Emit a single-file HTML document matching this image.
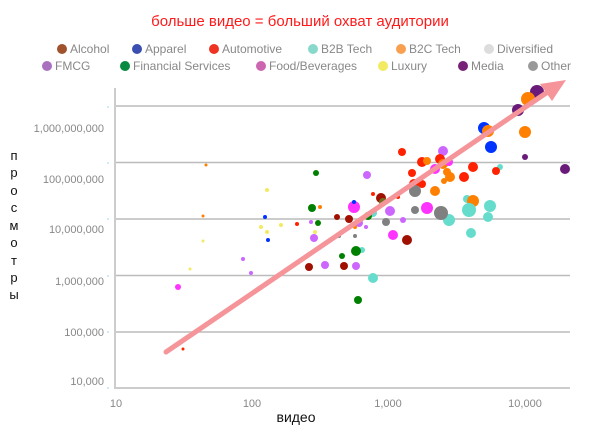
<!DOCTYPE html>
<html><head><meta charset="utf-8"><style>
html,body{margin:0;padding:0;background:#fff;}
svg{display:block;font-family:"Liberation Sans",sans-serif;}
</style></head><body>
<svg width="600" height="433" viewBox="0 0 600 433">
<text x="300" y="26" text-anchor="middle" fill="#ff1a1a" font-size="15">больше видео = больший охват аудитории</text>
<g font-size="12" fill="#888">
<circle cx="62" cy="49" r="5" fill="#a0522d"/><text x="70" y="53">Alcohol</text>
<circle cx="137" cy="49" r="5" fill="#3a4fb0"/><text x="145" y="53">Apparel</text>
<circle cx="214" cy="49" r="5" fill="#ee3322"/><text x="222" y="53">Automotive</text>
<circle cx="313" cy="49" r="5" fill="#88d8cc"/><text x="321" y="53">B2B Tech</text>
<circle cx="401" cy="49" r="5" fill="#f8a050"/><text x="409" y="53">B2C Tech</text>
<circle cx="489" cy="49" r="5" fill="#dddddd"/><text x="497" y="53">Diversified</text>
<circle cx="47" cy="66" r="5" fill="#aa70c0"/><text x="55" y="70">FMCG</text>
<circle cx="125" cy="66" r="5" fill="#0a8a40"/><text x="133" y="70">Financial Services</text>
<circle cx="261" cy="66" r="5" fill="#cc66b0"/><text x="269" y="70">Food/Beverages</text>
<circle cx="383" cy="66" r="5" fill="#f2ea60"/><text x="391" y="70">Luxury</text>
<circle cx="463" cy="66" r="5" fill="#772277"/><text x="471" y="70">Media</text>
<circle cx="533" cy="66" r="5" fill="#999"/><text x="541" y="70">Other</text>
</g>
<g stroke="#bbb" stroke-width="1.5">
<line x1="115" y1="106" x2="570" y2="106"/><line x1="115" y1="162.5" x2="570" y2="162.5"/>
<line x1="115" y1="219" x2="570" y2="219"/><line x1="115" y1="275.5" x2="570" y2="275.5"/>
<line x1="115" y1="332" x2="570" y2="332"/>
</g>
<g stroke="#ccc" stroke-width="2"><line x1="115" y1="88" x2="115" y2="389"/><line x1="114" y1="388" x2="570" y2="388"/></g>
<g stroke="#9cd8f0" stroke-width="1"><line x1="108" y1="106" x2="108" y2="108"/><line x1="108" y1="162" x2="108" y2="164"/><line x1="108" y1="218" x2="108" y2="220"/><line x1="108" y1="275" x2="108" y2="277"/><line x1="108" y1="331" x2="108" y2="333"/><line x1="108" y1="387" x2="108" y2="389"/></g>
<g font-size="11" fill="#888" text-anchor="end">
<text x="104" y="132">1,000,000,000</text><text x="104" y="183">100,000,000</text>
<text x="104" y="233">10,000,000</text><text x="104" y="285">1,000,000</text>
<text x="104" y="336">100,000</text><text x="104" y="385">10,000</text>
</g>
<g font-size="11" fill="#888" text-anchor="middle">
<text x="116" y="407">10</text><text x="252" y="407">100</text><text x="388" y="407">1,000</text><text x="525" y="407">10,000</text>
</g>
<text x="296" y="422" text-anchor="middle" font-size="14" fill="#111">видео</text>
<g font-size="13" fill="#111" text-anchor="middle">
<text x="14" y="160">п</text><text x="14" y="177">р</text><text x="14" y="195">о</text><text x="14" y="212">с</text><text x="14" y="230">м</text><text x="14" y="247">о</text><text x="14" y="265">т</text><text x="14" y="282">р</text><text x="14" y="299">ы</text>
</g>
<g>
<circle cx="537" cy="92" r="7" fill="#6a1b7a"/><circle cx="528" cy="99" r="7" fill="#ff8000"/><circle cx="518" cy="110" r="6" fill="#6a1b7a"/>
<circle cx="484" cy="128" r="6" fill="#0033ff"/><circle cx="488" cy="131" r="6" fill="#ff8000"/><circle cx="525" cy="132" r="6" fill="#ff8000"/>
<circle cx="491" cy="147" r="6" fill="#0033ff"/><circle cx="525" cy="157" r="3" fill="#6a1b7a"/><circle cx="565" cy="169" r="5" fill="#6a1b7a"/>
<circle cx="402" cy="152" r="4" fill="#ff2200"/><circle cx="443" cy="151" r="5" fill="#cc66ff"/><circle cx="422" cy="162" r="5" fill="#ff2200"/>
<circle cx="427" cy="161" r="4" fill="#ff8000"/><circle cx="440" cy="159" r="5" fill="#ff2200"/><circle cx="443" cy="164" r="5" fill="#ff8000"/>
<circle cx="449" cy="162" r="4" fill="#ff33ff"/><circle cx="500" cy="167" r="3" fill="#66ddcc"/><circle cx="473" cy="167" r="5" fill="#ff2200"/>
<circle cx="496" cy="171" r="4" fill="#ff2200"/><circle cx="435" cy="169" r="5" fill="#ff33ff"/><circle cx="447" cy="172" r="4" fill="#ff8000"/>
<circle cx="450" cy="177" r="5" fill="#ff8000"/><circle cx="464" cy="177" r="5" fill="#ff2200"/><circle cx="444" cy="181" r="3" fill="#ff8000"/>
<circle cx="316" cy="173" r="3" fill="#008000"/><circle cx="367" cy="175" r="4" fill="#cc66ff"/><circle cx="412" cy="173" r="4" fill="#ff2200"/>
<circle cx="414" cy="184" r="5" fill="#ff2200"/><circle cx="422" cy="184" r="4" fill="#ff2200"/><circle cx="415" cy="191" r="6" fill="#808080"/>
<circle cx="435" cy="191" r="5" fill="#ff8000"/><circle cx="467" cy="199" r="4" fill="#66ddcc"/><circle cx="473" cy="201" r="6" fill="#ff8000"/>
<circle cx="490" cy="206" r="6" fill="#66ddcc"/><circle cx="469" cy="210" r="7" fill="#66ddcc"/><circle cx="488" cy="217" r="5" fill="#66ddcc"/>
<circle cx="449" cy="220" r="6" fill="#66ddcc"/><circle cx="441" cy="213" r="7" fill="#808080"/><circle cx="427" cy="208" r="6" fill="#ff33ff"/>
<circle cx="415" cy="210" r="4" fill="#808080"/><circle cx="471" cy="233" r="5" fill="#66ddcc"/><circle cx="407" cy="240" r="5" fill="#a01000"/>
<circle cx="393" cy="235" r="5" fill="#ff33ff"/><circle cx="386" cy="222" r="4" fill="#808080"/><circle cx="403" cy="220" r="3" fill="#cc66ff"/>
<circle cx="390" cy="211" r="5" fill="#cc66ff"/><circle cx="381" cy="198" r="5" fill="#a01000"/><circle cx="383" cy="202" r="4" fill="#707020"/>
<circle cx="398" cy="197" r="2" fill="#ff2200"/><circle cx="373" cy="194" r="2" fill="#ff2200"/><circle cx="354" cy="207" r="6" fill="#ff33ff"/>
<circle cx="354" cy="202" r="2" fill="#0033ff"/><circle cx="373" cy="213" r="4" fill="#66ddcc"/><circle cx="368" cy="216" r="4" fill="#008000"/>
<circle cx="349" cy="219" r="4" fill="#a01000"/><circle cx="359" cy="223" r="4" fill="#cc66ff"/><circle cx="355" cy="227" r="2" fill="#ff8000"/>
<circle cx="366" cy="227" r="2" fill="#cc66ff"/><circle cx="355" cy="236" r="2" fill="#808080"/><circle cx="339" cy="236" r="2" fill="#808080"/>
<circle cx="362" cy="250" r="3" fill="#66ddcc"/><circle cx="356" cy="251" r="5" fill="#008000"/><circle cx="342" cy="256" r="3" fill="#008000"/>
<circle cx="309" cy="267" r="4" fill="#a01000"/><circle cx="325" cy="265" r="4" fill="#cc66ff"/><circle cx="314" cy="238" r="4" fill="#cc66ff"/>
<circle cx="312" cy="208" r="4" fill="#008000"/><circle cx="320" cy="207" r="2" fill="#ff8000"/><circle cx="318" cy="223" r="3" fill="#008000"/>
<circle cx="311" cy="222" r="2" fill="#cc66ff"/><circle cx="315" cy="232" r="2" fill="#f2ea60"/><circle cx="337" cy="217" r="3" fill="#a01000"/>
<circle cx="297" cy="224" r="2" fill="#ff2200"/><circle cx="281" cy="225" r="2" fill="#f2ea60"/><circle cx="265" cy="217" r="2" fill="#0033ff"/>
<circle cx="261" cy="227" r="2" fill="#f2ea60"/><circle cx="267" cy="232" r="2" fill="#f2ea60"/><circle cx="268" cy="240" r="2" fill="#0033ff"/>
<circle cx="267" cy="190" r="2" fill="#f2ea60"/><circle cx="206" cy="165" r="1.5" fill="#ff8000"/><circle cx="203" cy="216" r="1.5" fill="#ff8000"/>
<circle cx="203" cy="241" r="1.5" fill="#f2ea60"/><circle cx="243" cy="259" r="2" fill="#cc66ff"/><circle cx="251" cy="273" r="2" fill="#cc66ff"/>
<circle cx="190" cy="269" r="1.5" fill="#f2ea60"/><circle cx="373" cy="278" r="5" fill="#66ddcc"/><circle cx="178" cy="287" r="3" fill="#ff33ff"/>
<circle cx="358" cy="300" r="4" fill="#008000"/><circle cx="344" cy="266" r="4" fill="#a01000"/><circle cx="356" cy="266" r="4" fill="#cc66ff"/>
<circle cx="254" cy="291" r="1.5" fill="#a01000"/><circle cx="183" cy="349" r="1.5" fill="#ff2200"/><circle cx="213" cy="320" r="1" fill="#008000"/>
</g>
<line x1="166" y1="352" x2="552" y2="89" stroke="#f5959a" stroke-width="5" stroke-linecap="round"/>
<polygon points="566,80 540,84 552,101" fill="#f5959a"/>
</svg>
</body></html>
